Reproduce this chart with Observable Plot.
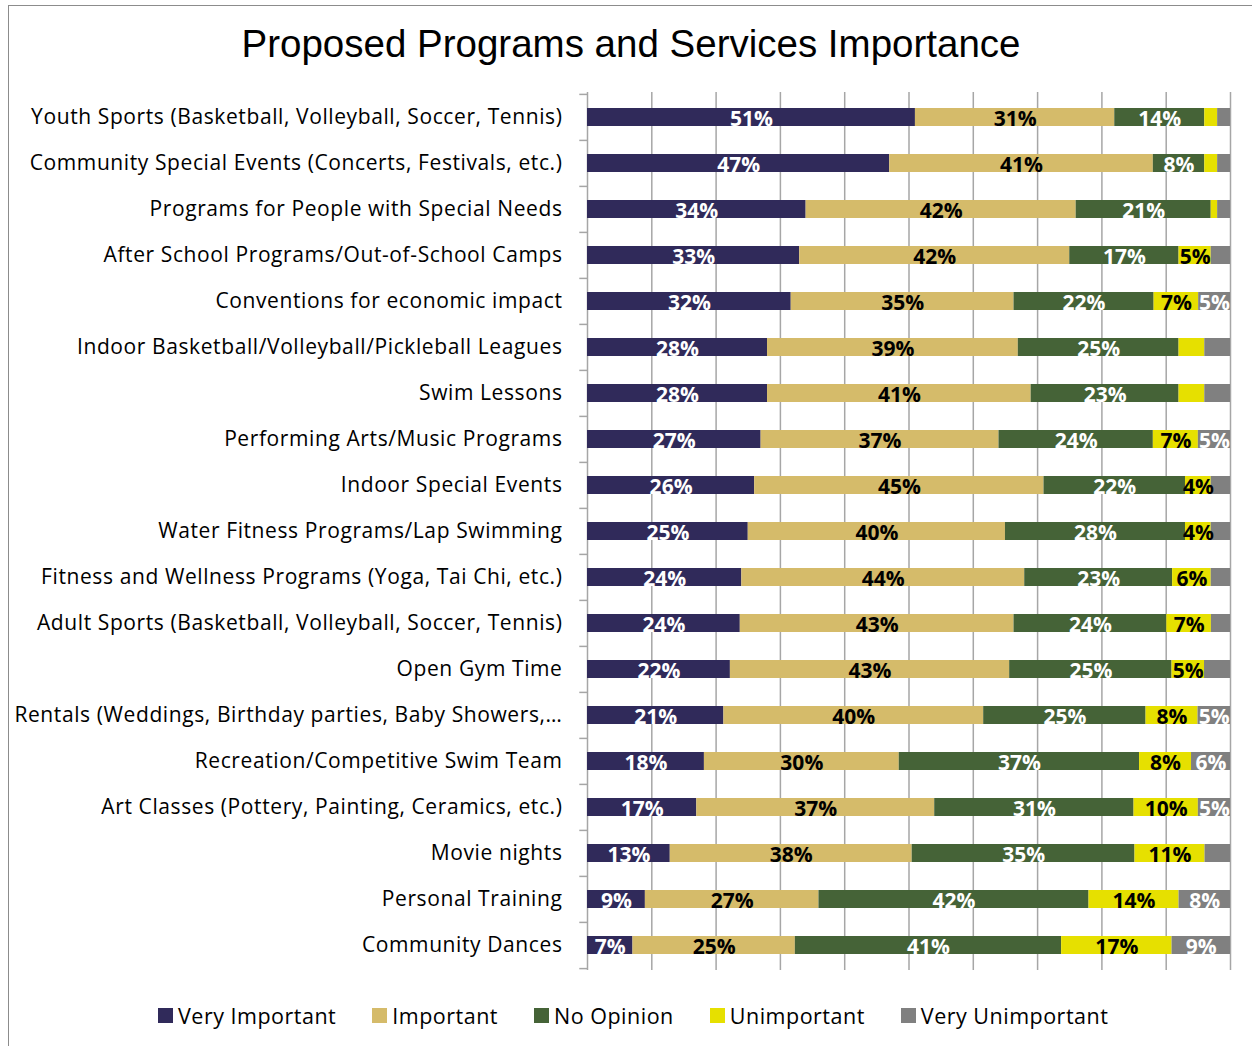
<!DOCTYPE html>
<html>
<head>
<meta charset="utf-8">
<script src="https://cdn.jsdelivr.net/npm/d3@7"></script>
<script src="https://cdn.jsdelivr.net/npm/@observablehq/plot@0.6"></script>
<style>
  html, body { margin: 0; padding: 0; background: #fff; }
  body { width: 1252px; height: 1046px; position: relative; overflow: hidden; }
  #frame { position: absolute; left: 8px; top: 5px; width: 1300px; height: 1100px; border-left: 1px solid #8c8c8c; border-top: 1px solid #8c8c8c; }
  #title { position: absolute; left: 0; width: 1262px; top: 22px; text-align: center; font-family: "Liberation Sans", Arial, sans-serif; font-size: 38.5px; color: #000; }
  #chart { position: absolute; left: 0; top: 80px; }
  #legend { position: absolute; left: 158px; top: 1001px; display: flex; font-family: "Open Sans", sans-serif; font-size: 21.5px; letter-spacing: 0.5px; color: #000; white-space: nowrap; }
  .item { display: flex; align-items: center; margin-right: 36px; }
  .sw { width: 15px; height: 15px; margin-right: 5px; }
  svg text.ylab { letter-spacing: 0.6px; }
</style>
</head>
<body>
<div id="frame"></div>
<div id="title">Proposed Programs and Services Importance</div>
<div id="chart"></div>
<div id="legend"></div>
<script>
const categories = [
  "Youth Sports (Basketball, Volleyball, Soccer, Tennis)",
  "Community Special Events (Concerts, Festivals, etc.)",
  "Programs for People with Special Needs",
  "After School Programs/Out-of-School Camps",
  "Conventions for economic impact",
  "Indoor Basketball/Volleyball/Pickleball Leagues",
  "Swim Lessons",
  "Performing Arts/Music Programs",
  "Indoor Special Events",
  "Water Fitness Programs/Lap Swimming",
  "Fitness and Wellness Programs (Yoga, Tai Chi, etc.)",
  "Adult Sports (Basketball, Volleyball, Soccer, Tennis)",
  "Open Gym Time",
  "Rentals (Weddings, Birthday parties, Baby Showers,…",
  "Recreation/Competitive Swim Team",
  "Art Classes (Pottery, Painting, Ceramics, etc.)",
  "Movie nights",
  "Personal Training",
  "Community Dances"
];
const levels = ["Very Important", "Important", "No Opinion", "Unimportant", "Very Unimportant"];
const colors = ["#302a5a", "#d5bb6a", "#456337", "#e6e000", "#808080"];
const labelColors = ["#ffffff", "#000000", "#ffffff", "#000000", "#ffffff"];

const veryImportant   = [51,47,34,33,32,28,28,27,26,25,24,24,22,21,18,17,13, 9, 7];
const important       = [31,41,42,42,35,39,41,37,45,40,44,43,43,40,30,37,38,27,25];
const noOpinion       = [14, 8,21,17,22,25,23,24,22,28,23,24,25,25,37,31,35,42,41];
const unimportant     = [ 2, 2, 1, 5, 7, 4, 4, 7, 4, 4, 6, 7, 5, 8, 8,10,11,14,17];
const veryUnimportant = [ 2, 2, 2, 3, 5, 4, 4, 5, 3, 3, 3, 3, 4, 5, 6, 5, 4, 8, 9];

// labels shown for segments of at least 5%, plus these smaller ones
const extraLabels = [
  ["Indoor Special Events", "Unimportant"],
  ["Water Fitness Programs/Lap Swimming", "Unimportant"]
];

const series = [veryImportant, important, noOpinion, unimportant, veryUnimportant];
const data = [];
categories.forEach((c, i) => {
  levels.forEach((l, j) => {
    const v = series[j][i];
    const shown = v >= 5 || extraLabels.some(([a, b]) => a === c && b === l);
    data.push({category: c, level: l, value: v, shown, labelColor: labelColors[j]});
  });
});

const width = 1252, height = 900;
const marginTop = 12, marginBottom = 10, marginLeft = 587, marginRight = 22;
const paddingInner = 0.6, paddingOuter = 0.3;
const step = (height - marginTop - marginBottom) / (categories.length - paddingInner + 2 * paddingOuter);
const gridColor = "#a6a6a6";

const stackOpts = {x: "value", y: "category", z: "level", order: levels, offset: "normalize"};
const labelText = color => d => (d.shown && d.labelColor === color) ? d.value + "%" : null;

const chart = Plot.plot({
  width, height, marginTop, marginBottom, marginLeft, marginRight,
  style: {fontFamily: "'Open Sans', sans-serif", fontSize: "20px", color: "#000", background: "transparent"},
  x: {domain: [0, 1], axis: null},
  y: {domain: categories, paddingInner, paddingOuter, label: null},
  color: {domain: levels, range: colors},
  marks: [
    Plot.ruleX(d3.range(0, 11).map(d => d / 10), {stroke: gridColor, strokeWidth: 1.5}),
    Plot.ruleY(categories, {y: d => d, x1: -0.012, x2: 0, dy: -step / 2, stroke: gridColor, strokeWidth: 1.5}),
    Plot.ruleY(categories.slice(-1), {y: d => d, x1: -0.012, x2: 0, dy: step / 2, stroke: gridColor, strokeWidth: 1.5}),
    Plot.barX(data, Plot.stackX({...stackOpts, fill: "level"})),
    Plot.text(data, Plot.stackX({...stackOpts, text: labelText("#ffffff"), fill: "#ffffff",
      fontWeight: "bold", fontSize: 21, dy: 2})),
    Plot.text(data, Plot.stackX({...stackOpts, text: labelText("#000000"), fill: "#000000",
      fontWeight: "bold", fontSize: 21, dy: 2})),
    Plot.axisY({tickSize: 0, tickPadding: 25, fontSize: 21, label: null, className: "ylab"})
  ]
});
chart.querySelectorAll("[aria-label='y-axis tick label'] text").forEach(t => t.classList.add("ylab"));
document.getElementById("chart").appendChild(chart);

const legend = document.getElementById("legend");
levels.forEach((l, j) => {
  const item = document.createElement("div");
  item.className = "item";
  const sw = document.createElement("div");
  sw.className = "sw";
  sw.style.background = colors[j];
  const t = document.createElement("span");
  t.textContent = l;
  item.appendChild(sw);
  item.appendChild(t);
  legend.appendChild(item);
});
</script>
</body>
</html>
